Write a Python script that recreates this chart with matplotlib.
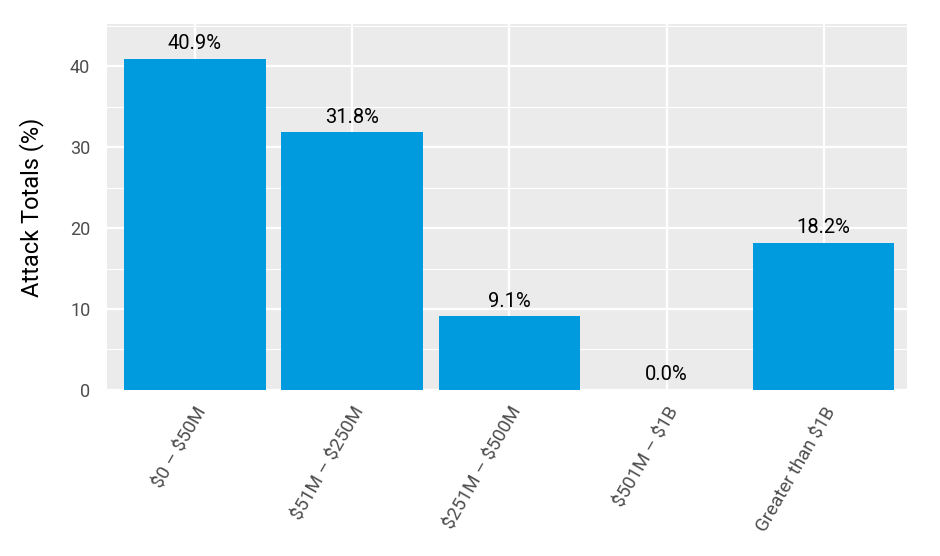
import matplotlib.pyplot as plt
import numpy as np

# ------------------ DATA ------------------
categories = ["\\$0 – \\$50M", "\\$51M – \\$250M", "\\$251M – \\$500M", "\\$501M – \\$1B", "Greater than \\$1B"]
attack_pct = [40.9, 31.8, 9.1, 0.0, 18.2]
y_ticks = [0, 10, 20, 30, 40]

# ------------------ STYLE ------------------
plt.rcParams["font.family"] = ["Roboto", "DejaVu Sans"]
BAR_COLOR = "#009ADE"
PANEL_BG = "#EBEBEB"

# ------------------ PLOT ------------------
fig = plt.figure(figsize=(9.4, 5.56), dpi=100)
ax = fig.add_axes([0.1138, 0.2986, 0.8511, 0.6583])
ax.set_facecolor(PANEL_BG)

x = np.arange(len(categories))
ax.bar(x, attack_pct, width=0.9, color=BAR_COLOR, zorder=3)

for xi, v in zip(x, attack_pct):
    ax.annotate(f"{v:.1f}%", (xi, v), xytext=(0, 7), textcoords="offset points",
                ha="center", va="baseline", fontsize=14.5, color="black", zorder=4)

ax.set_xlim(-0.56, len(categories) - 1 + 0.53)
ax.set_ylim(0, 45.2)
ax.set_xticks(x)
ax.set_xticklabels(categories, rotation=60, ha="right", va="top",
                   rotation_mode="anchor", fontsize=13.5, color="#4D4D4D")
ax.set_yticks(y_ticks)
ax.set_yticks([5, 15, 25, 35, 45], minor=True)
ax.tick_params(axis="y", labelsize=13, labelcolor="#4D4D4D", length=0, pad=12)
ax.tick_params(axis="x", length=0, pad=10)
ax.tick_params(which="minor", length=0)

ax.grid(which="major", color="white", linewidth=1.6, zorder=1)
ax.grid(which="minor", axis="y", color="white", linewidth=0.8, zorder=1)
ax.set_axisbelow(True)
for s in ax.spines.values():
    s.set_visible(False)

ax.set_ylabel("Attack Totals (%)", fontsize=17, color="black", labelpad=19)

plt.savefig("out.png", dpi=100)
plt.close()
